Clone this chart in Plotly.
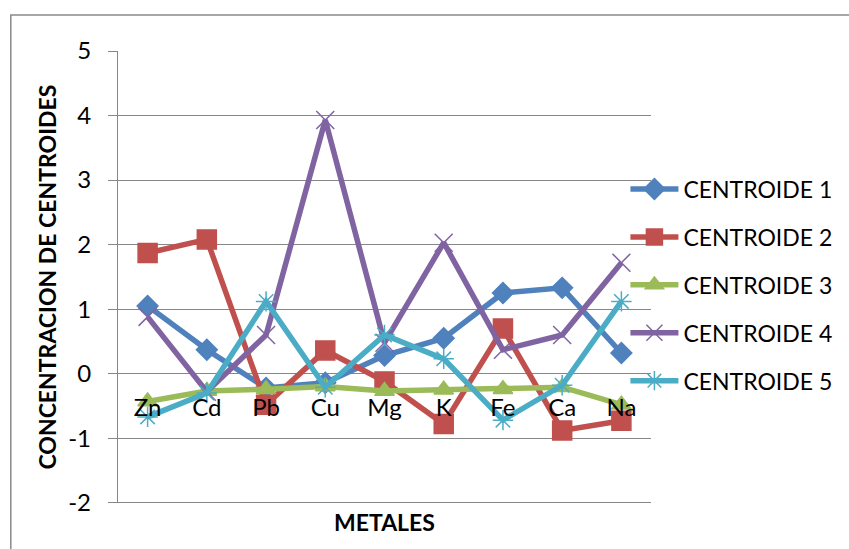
import plotly.graph_objects as go

# Metals on the category axis
metales = ["Zn", "Cd", "Pb", "Cu", "Mg", "K", "Fe", "Ca", "Na"]

# Centroid concentrations per metal
centroide_1 = [1.05, 0.37, -0.22, -0.14, 0.28, 0.55, 1.25, 1.33, 0.32]
centroide_2 = [1.87, 2.08, -0.48, 0.36, -0.12, -0.78, 0.70, -0.88, -0.73]
centroide_3 = [-0.43, -0.27, -0.24, -0.20, -0.27, -0.25, -0.24, -0.21, -0.48]
centroide_4 = [0.88, -0.28, 0.60, 3.93, 0.48, 2.03, 0.37, 0.60, 1.72]
centroide_5 = [-0.67, -0.30, 1.12, -0.21, 0.60, 0.23, -0.72, -0.18, 1.12]

# Value axis ticks (plain hyphen for negatives)
y_ticks = [-2, -1, 0, 1, 2, 3, 4, 5]
y_tick_labels = ["-2", "-1", "0", "1", "2", "3", "4", "5"]

nombres = ["CENTROIDE 1", "CENTROIDE 2", "CENTROIDE 3", "CENTROIDE 4", "CENTROIDE 5"]
series = [centroide_1, centroide_2, centroide_3, centroide_4, centroide_5]
colores = ["#4F81BD", "#C0504D", "#9BBB59", "#8064A2", "#4BACC6"]
simbolos = ["diamond", "square", "triangle-up", "x-thin-open", "asterisk-open"]
tamanos = [16, 19, 17, 18, 17]

FONT = "Lato, 'Open Sans', sans-serif"
GRID = "#878787"

fig = go.Figure()
for i, (nombre, valores) in enumerate(zip(nombres, series)):
    fig.add_trace(go.Scatter(
        x=metales, y=valores, name=nombre, mode="lines+markers",
        legendgroup=nombre,
        line=dict(color=colores[i], width=5.5),
        marker=dict(symbol=simbolos[i], size=tamanos[i], color=colores[i],
                    line=dict(color=colores[i], width=1.5)),
    ))

ymin, ymax = -2, 5

fig.update_layout(
    width=849, height=549,
    margin=dict(l=118, r=194, t=51, b=46),
    paper_bgcolor="white", plot_bgcolor="white",
    font=dict(family=FONT, size=24, color="black"),
    showlegend=True,
    legend=dict(x=0.952, y=0.742, xanchor="left", yanchor="top",
                font=dict(family=FONT, size=23, color="black"),
                tracegroupgap=15, itemwidth=48, bgcolor="rgba(0,0,0,0)"),
    xaxis=dict(type="category", range=[-0.5, len(metales) - 0.5],
               anchor="free", position=(0 - ymin) / (ymax - ymin),
               showgrid=False, showline=False, zeroline=False, ticks="",
               ticklabelstandoff=17,
               tickfont=dict(family=FONT, size=24, color="black")),
    yaxis=dict(range=[ymin - 0.004, ymax], tickvals=y_ticks, ticktext=y_tick_labels,
               showgrid=True, gridcolor=GRID, gridwidth=1.3,
               showline=True, linecolor=GRID, linewidth=1.3,
               zeroline=False, ticks="outside", ticklen=9, tickcolor=GRID,
               tickwidth=1.3, ticklabelstandoff=12,
               tickfont=dict(family=FONT, size=24, color="black")),
    shapes=[
        # outer chart frame
        dict(type="rect", xref="paper", yref="paper",
             x0=(10 - 118) / 537, x1=1.5, y0=-0.5, y1=(503 - 15) / 452,
             line=dict(color="#8a8a8a", width=1.5), layer="below"),
        # bottom gridline at the axis minimum
        dict(type="line", xref="paper", yref="y", x0=0, x1=1, y0=ymin, y1=ymin,
             line=dict(color=GRID, width=1.3), layer="below"),
    ],
    annotations=[
        dict(text="<b>CONCENTRACION DE CENTROIDES</b>", textangle=-90,
             xref="paper", yref="paper", x=(46 - 118) / 537, y=(503 - 277) / 452,
             xanchor="center", yanchor="middle", showarrow=False,
             font=dict(family=FONT, size=23, color="black")),
        dict(text="<b>METALES</b>", xref="paper", yref="paper",
             x=(387 - 118) / 537, y=(503 - 522) / 452,
             xanchor="center", yanchor="middle", showarrow=False,
             font=dict(family=FONT, size=23, color="black")),
    ],
)

fig.write_html("out.html")
